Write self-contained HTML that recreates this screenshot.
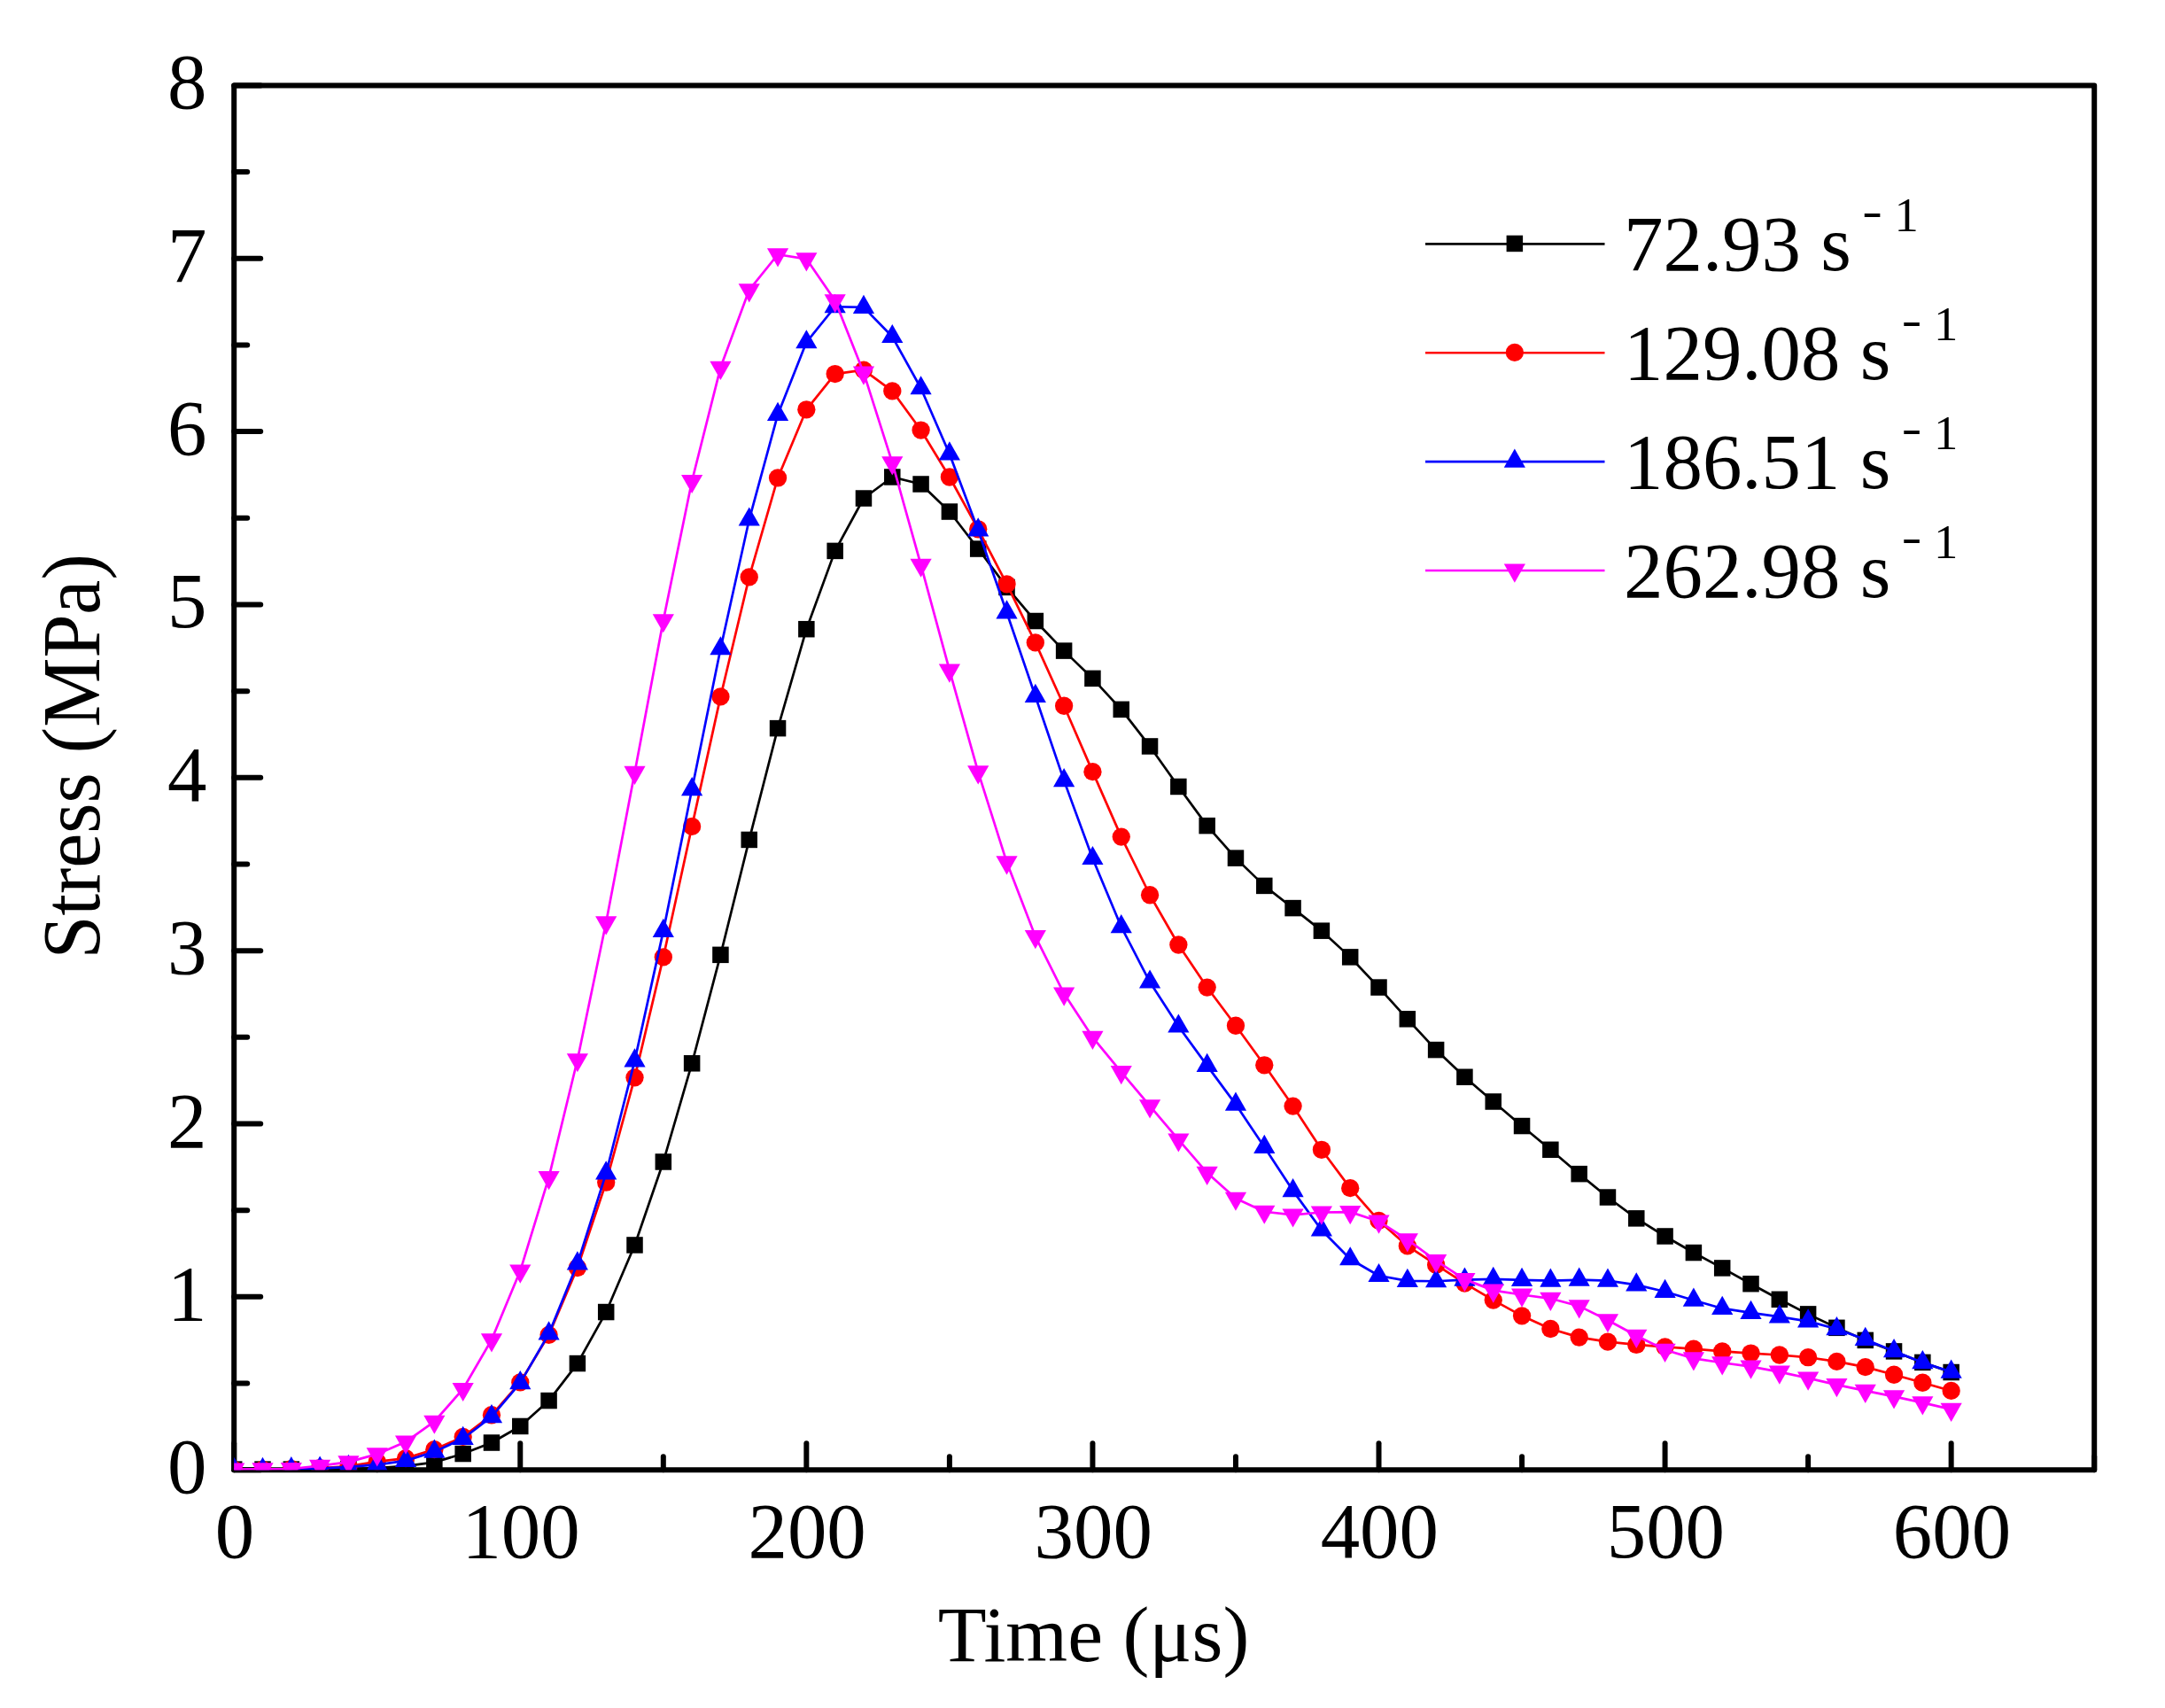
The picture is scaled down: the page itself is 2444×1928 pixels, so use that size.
<!DOCTYPE html>
<html lang="en">
<head>
<meta charset="utf-8">
<title>Stress versus time at different strain rates</title>
<style>
html,body{margin:0;padding:0;background:#ffffff;}
body{width:2444px;height:1928px;overflow:hidden;}
svg{display:block;}
text{font-family:"Liberation Serif",serif;fill:#000000;}
</style>
</head>
<body>
<svg width="2444" height="1928" viewBox="0 0 2444 1928">
<rect x="0" y="0" width="2444" height="1928" fill="#ffffff"/>
<defs><clipPath id="plotclip"><rect x="264.2" y="96.4" width="2100" height="1562.8"/></clipPath></defs>
<g stroke="#000000" stroke-width="6" stroke-linecap="round" stroke-linejoin="round" fill="none">
<rect x="264.2" y="96.4" width="2100" height="1562.8"/>
<line x1="264.2" y1="1659.2" x2="294.2" y2="1659.2"/>
<line x1="264.2" y1="1561.53" x2="279.2" y2="1561.53"/>
<line x1="264.2" y1="1463.85" x2="294.2" y2="1463.85"/>
<line x1="264.2" y1="1366.18" x2="279.2" y2="1366.18"/>
<line x1="264.2" y1="1268.5" x2="294.2" y2="1268.5"/>
<line x1="264.2" y1="1170.83" x2="279.2" y2="1170.83"/>
<line x1="264.2" y1="1073.15" x2="294.2" y2="1073.15"/>
<line x1="264.2" y1="975.48" x2="279.2" y2="975.48"/>
<line x1="264.2" y1="877.8" x2="294.2" y2="877.8"/>
<line x1="264.2" y1="780.13" x2="279.2" y2="780.13"/>
<line x1="264.2" y1="682.45" x2="294.2" y2="682.45"/>
<line x1="264.2" y1="584.78" x2="279.2" y2="584.78"/>
<line x1="264.2" y1="487.1" x2="294.2" y2="487.1"/>
<line x1="264.2" y1="389.43" x2="279.2" y2="389.43"/>
<line x1="264.2" y1="291.75" x2="294.2" y2="291.75"/>
<line x1="264.2" y1="194.08" x2="279.2" y2="194.08"/>
<line x1="264.2" y1="96.4" x2="294.2" y2="96.4"/>
<line x1="264.2" y1="1659.2" x2="264.2" y2="1629.2"/>
<line x1="425.74" y1="1659.2" x2="425.74" y2="1644.2"/>
<line x1="587.28" y1="1659.2" x2="587.28" y2="1629.2"/>
<line x1="748.82" y1="1659.2" x2="748.82" y2="1644.2"/>
<line x1="910.35" y1="1659.2" x2="910.35" y2="1629.2"/>
<line x1="1071.89" y1="1659.2" x2="1071.89" y2="1644.2"/>
<line x1="1233.43" y1="1659.2" x2="1233.43" y2="1629.2"/>
<line x1="1394.97" y1="1659.2" x2="1394.97" y2="1644.2"/>
<line x1="1556.51" y1="1659.2" x2="1556.51" y2="1629.2"/>
<line x1="1718.05" y1="1659.2" x2="1718.05" y2="1644.2"/>
<line x1="1879.58" y1="1659.2" x2="1879.58" y2="1629.2"/>
<line x1="2041.12" y1="1659.2" x2="2041.12" y2="1644.2"/>
<line x1="2202.66" y1="1659.2" x2="2202.66" y2="1629.2"/>
<line x1="2364.2" y1="1659.2" x2="2364.2" y2="1644.2"/>
</g>
<g clip-path="url(#plotclip)">
<polyline points="264.2,1658.61 296.51,1658.61 328.82,1658.61 361.12,1658.42 393.43,1658.03 425.74,1657.05 458.05,1654.9 490.35,1650.6 522.66,1641.03 554.97,1628.53 587.28,1609.97 619.58,1581.06 651.89,1539.06 684.2,1481.04 716.51,1405.44 748.82,1311.48 781.12,1200.32 813.43,1077.84 845.74,947.93 878.05,822.13 910.35,710.19 942.66,621.89 974.97,562.51 1007.28,538.48 1039.58,546.49 1071.89,577.55 1104.2,619.55 1136.51,662.92 1168.82,701.01 1201.12,734.61 1233.43,765.86 1265.74,800.83 1298.05,842.44 1330.35,887.96 1362.66,932.11 1394.97,968.64 1427.28,999.89 1459.58,1025.09 1491.89,1050.68 1524.2,1080.38 1556.51,1114.56 1588.82,1150.31 1621.12,1185.09 1653.43,1215.76 1685.74,1243.5 1718.05,1271.04 1750.35,1297.8 1782.66,1325.15 1814.97,1351.52 1847.28,1375.36 1879.58,1395.48 1911.89,1414.04 1944.2,1431.42 1976.51,1449.2 2008.82,1466.78 2041.12,1483.38 2073.43,1498.82 2105.74,1512.88 2138.05,1525.39 2170.35,1537.89 2202.66,1549.02" fill="none" stroke="#000000" stroke-width="2.7" stroke-linejoin="round"/>
<g><rect x="254.95" y="1649.36" width="18.5" height="18.5" fill="#000000"/><rect x="287.26" y="1649.36" width="18.5" height="18.5" fill="#000000"/><rect x="319.57" y="1649.36" width="18.5" height="18.5" fill="#000000"/><rect x="351.87" y="1649.17" width="18.5" height="18.5" fill="#000000"/><rect x="384.18" y="1648.78" width="18.5" height="18.5" fill="#000000"/><rect x="416.49" y="1647.8" width="18.5" height="18.5" fill="#000000"/><rect x="448.8" y="1645.65" width="18.5" height="18.5" fill="#000000"/><rect x="481.1" y="1641.35" width="18.5" height="18.5" fill="#000000"/><rect x="513.41" y="1631.78" width="18.5" height="18.5" fill="#000000"/><rect x="545.72" y="1619.28" width="18.5" height="18.5" fill="#000000"/><rect x="578.03" y="1600.72" width="18.5" height="18.5" fill="#000000"/><rect x="610.33" y="1571.81" width="18.5" height="18.5" fill="#000000"/><rect x="642.64" y="1529.81" width="18.5" height="18.5" fill="#000000"/><rect x="674.95" y="1471.79" width="18.5" height="18.5" fill="#000000"/><rect x="707.26" y="1396.19" width="18.5" height="18.5" fill="#000000"/><rect x="739.57" y="1302.23" width="18.5" height="18.5" fill="#000000"/><rect x="771.87" y="1191.07" width="18.5" height="18.5" fill="#000000"/><rect x="804.18" y="1068.59" width="18.5" height="18.5" fill="#000000"/><rect x="836.49" y="938.68" width="18.5" height="18.5" fill="#000000"/><rect x="868.8" y="812.88" width="18.5" height="18.5" fill="#000000"/><rect x="901.1" y="700.94" width="18.5" height="18.5" fill="#000000"/><rect x="933.41" y="612.64" width="18.5" height="18.5" fill="#000000"/><rect x="965.72" y="553.26" width="18.5" height="18.5" fill="#000000"/><rect x="998.03" y="529.23" width="18.5" height="18.5" fill="#000000"/><rect x="1030.33" y="537.24" width="18.5" height="18.5" fill="#000000"/><rect x="1062.64" y="568.3" width="18.5" height="18.5" fill="#000000"/><rect x="1094.95" y="610.3" width="18.5" height="18.5" fill="#000000"/><rect x="1127.26" y="653.67" width="18.5" height="18.5" fill="#000000"/><rect x="1159.57" y="691.76" width="18.5" height="18.5" fill="#000000"/><rect x="1191.87" y="725.36" width="18.5" height="18.5" fill="#000000"/><rect x="1224.18" y="756.61" width="18.5" height="18.5" fill="#000000"/><rect x="1256.49" y="791.58" width="18.5" height="18.5" fill="#000000"/><rect x="1288.8" y="833.19" width="18.5" height="18.5" fill="#000000"/><rect x="1321.1" y="878.71" width="18.5" height="18.5" fill="#000000"/><rect x="1353.41" y="922.86" width="18.5" height="18.5" fill="#000000"/><rect x="1385.72" y="959.39" width="18.5" height="18.5" fill="#000000"/><rect x="1418.03" y="990.64" width="18.5" height="18.5" fill="#000000"/><rect x="1450.33" y="1015.84" width="18.5" height="18.5" fill="#000000"/><rect x="1482.64" y="1041.43" width="18.5" height="18.5" fill="#000000"/><rect x="1514.95" y="1071.13" width="18.5" height="18.5" fill="#000000"/><rect x="1547.26" y="1105.31" width="18.5" height="18.5" fill="#000000"/><rect x="1579.57" y="1141.06" width="18.5" height="18.5" fill="#000000"/><rect x="1611.87" y="1175.84" width="18.5" height="18.5" fill="#000000"/><rect x="1644.18" y="1206.51" width="18.5" height="18.5" fill="#000000"/><rect x="1676.49" y="1234.25" width="18.5" height="18.5" fill="#000000"/><rect x="1708.8" y="1261.79" width="18.5" height="18.5" fill="#000000"/><rect x="1741.1" y="1288.55" width="18.5" height="18.5" fill="#000000"/><rect x="1773.41" y="1315.9" width="18.5" height="18.5" fill="#000000"/><rect x="1805.72" y="1342.27" width="18.5" height="18.5" fill="#000000"/><rect x="1838.03" y="1366.11" width="18.5" height="18.5" fill="#000000"/><rect x="1870.33" y="1386.23" width="18.5" height="18.5" fill="#000000"/><rect x="1902.64" y="1404.79" width="18.5" height="18.5" fill="#000000"/><rect x="1934.95" y="1422.17" width="18.5" height="18.5" fill="#000000"/><rect x="1967.26" y="1439.95" width="18.5" height="18.5" fill="#000000"/><rect x="1999.57" y="1457.53" width="18.5" height="18.5" fill="#000000"/><rect x="2031.87" y="1474.13" width="18.5" height="18.5" fill="#000000"/><rect x="2064.18" y="1489.57" width="18.5" height="18.5" fill="#000000"/><rect x="2096.49" y="1503.63" width="18.5" height="18.5" fill="#000000"/><rect x="2128.8" y="1516.14" width="18.5" height="18.5" fill="#000000"/><rect x="2161.1" y="1528.64" width="18.5" height="18.5" fill="#000000"/><rect x="2193.41" y="1539.77" width="18.5" height="18.5" fill="#000000"/></g>
<polyline points="264.2,1659.2 296.51,1659 328.82,1658.22 361.12,1657.25 393.43,1655.1 425.74,1649.82 458.05,1646.11 490.35,1636.15 522.66,1621.89 554.97,1597.27 587.28,1560.35 619.58,1506.83 651.89,1431.03 684.2,1334.72 716.51,1216.34 748.82,1080.38 781.12,932.89 813.43,786.38 845.74,651.39 878.05,539.45 910.35,462.29 942.66,422.05 974.97,417.56 1007.28,441.39 1039.58,485.54 1071.89,538.48 1104.2,597.28 1136.51,659.4 1168.82,725.43 1201.12,796.73 1233.43,871.16 1265.74,944.61 1298.05,1010.25 1330.35,1066.51 1362.66,1114.56 1394.97,1157.74 1427.28,1202.28 1459.58,1248.57 1491.89,1297.8 1524.2,1341.17 1556.51,1377.9 1588.82,1406.42 1621.12,1427.71 1653.43,1448.61 1685.74,1467.56 1718.05,1485.34 1750.35,1499.99 1782.66,1509.56 1814.97,1514.64 1847.28,1517.96 1879.58,1520.31 1911.89,1522.65 1944.2,1525.39 1976.51,1527.53 2008.82,1529.49 2041.12,1532.22 2073.43,1536.91 2105.74,1543.16 2138.05,1551.76 2170.35,1560.74 2202.66,1569.93" fill="none" stroke="#ff0000" stroke-width="2.7" stroke-linejoin="round"/>
<g><circle cx="264.2" cy="1659.2" r="10.15" fill="#ff0000"/><circle cx="296.51" cy="1659" r="10.15" fill="#ff0000"/><circle cx="328.82" cy="1658.22" r="10.15" fill="#ff0000"/><circle cx="361.12" cy="1657.25" r="10.15" fill="#ff0000"/><circle cx="393.43" cy="1655.1" r="10.15" fill="#ff0000"/><circle cx="425.74" cy="1649.82" r="10.15" fill="#ff0000"/><circle cx="458.05" cy="1646.11" r="10.15" fill="#ff0000"/><circle cx="490.35" cy="1636.15" r="10.15" fill="#ff0000"/><circle cx="522.66" cy="1621.89" r="10.15" fill="#ff0000"/><circle cx="554.97" cy="1597.27" r="10.15" fill="#ff0000"/><circle cx="587.28" cy="1560.35" r="10.15" fill="#ff0000"/><circle cx="619.58" cy="1506.83" r="10.15" fill="#ff0000"/><circle cx="651.89" cy="1431.03" r="10.15" fill="#ff0000"/><circle cx="684.2" cy="1334.72" r="10.15" fill="#ff0000"/><circle cx="716.51" cy="1216.34" r="10.15" fill="#ff0000"/><circle cx="748.82" cy="1080.38" r="10.15" fill="#ff0000"/><circle cx="781.12" cy="932.89" r="10.15" fill="#ff0000"/><circle cx="813.43" cy="786.38" r="10.15" fill="#ff0000"/><circle cx="845.74" cy="651.39" r="10.15" fill="#ff0000"/><circle cx="878.05" cy="539.45" r="10.15" fill="#ff0000"/><circle cx="910.35" cy="462.29" r="10.15" fill="#ff0000"/><circle cx="942.66" cy="422.05" r="10.15" fill="#ff0000"/><circle cx="974.97" cy="417.56" r="10.15" fill="#ff0000"/><circle cx="1007.28" cy="441.39" r="10.15" fill="#ff0000"/><circle cx="1039.58" cy="485.54" r="10.15" fill="#ff0000"/><circle cx="1071.89" cy="538.48" r="10.15" fill="#ff0000"/><circle cx="1104.2" cy="597.28" r="10.15" fill="#ff0000"/><circle cx="1136.51" cy="659.4" r="10.15" fill="#ff0000"/><circle cx="1168.82" cy="725.43" r="10.15" fill="#ff0000"/><circle cx="1201.12" cy="796.73" r="10.15" fill="#ff0000"/><circle cx="1233.43" cy="871.16" r="10.15" fill="#ff0000"/><circle cx="1265.74" cy="944.61" r="10.15" fill="#ff0000"/><circle cx="1298.05" cy="1010.25" r="10.15" fill="#ff0000"/><circle cx="1330.35" cy="1066.51" r="10.15" fill="#ff0000"/><circle cx="1362.66" cy="1114.56" r="10.15" fill="#ff0000"/><circle cx="1394.97" cy="1157.74" r="10.15" fill="#ff0000"/><circle cx="1427.28" cy="1202.28" r="10.15" fill="#ff0000"/><circle cx="1459.58" cy="1248.57" r="10.15" fill="#ff0000"/><circle cx="1491.89" cy="1297.8" r="10.15" fill="#ff0000"/><circle cx="1524.2" cy="1341.17" r="10.15" fill="#ff0000"/><circle cx="1556.51" cy="1377.9" r="10.15" fill="#ff0000"/><circle cx="1588.82" cy="1406.42" r="10.15" fill="#ff0000"/><circle cx="1621.12" cy="1427.71" r="10.15" fill="#ff0000"/><circle cx="1653.43" cy="1448.61" r="10.15" fill="#ff0000"/><circle cx="1685.74" cy="1467.56" r="10.15" fill="#ff0000"/><circle cx="1718.05" cy="1485.34" r="10.15" fill="#ff0000"/><circle cx="1750.35" cy="1499.99" r="10.15" fill="#ff0000"/><circle cx="1782.66" cy="1509.56" r="10.15" fill="#ff0000"/><circle cx="1814.97" cy="1514.64" r="10.15" fill="#ff0000"/><circle cx="1847.28" cy="1517.96" r="10.15" fill="#ff0000"/><circle cx="1879.58" cy="1520.31" r="10.15" fill="#ff0000"/><circle cx="1911.89" cy="1522.65" r="10.15" fill="#ff0000"/><circle cx="1944.2" cy="1525.39" r="10.15" fill="#ff0000"/><circle cx="1976.51" cy="1527.53" r="10.15" fill="#ff0000"/><circle cx="2008.82" cy="1529.49" r="10.15" fill="#ff0000"/><circle cx="2041.12" cy="1532.22" r="10.15" fill="#ff0000"/><circle cx="2073.43" cy="1536.91" r="10.15" fill="#ff0000"/><circle cx="2105.74" cy="1543.16" r="10.15" fill="#ff0000"/><circle cx="2138.05" cy="1551.76" r="10.15" fill="#ff0000"/><circle cx="2170.35" cy="1560.74" r="10.15" fill="#ff0000"/><circle cx="2202.66" cy="1569.93" r="10.15" fill="#ff0000"/></g>
<polyline points="264.2,1659 296.51,1659 328.82,1658.22 361.12,1657.64 393.43,1655.88 425.74,1653.34 458.05,1648.85 490.35,1638.69 522.66,1623.84 554.97,1599.23 587.28,1561.13 619.58,1505.46 651.89,1426.34 684.2,1324.37 716.51,1197.39 748.82,1050.88 781.12,891.08 813.43,732.26 845.74,586.53 878.05,467.96 910.35,386.3 942.66,346.25 974.97,346.84 1007.28,380.05 1039.58,438.26 1071.89,512.5 1104.2,598.45 1136.51,691.44 1168.82,785.99 1201.12,881.12 1233.43,969.03 1265.74,1046.19 1298.05,1108.51 1330.35,1158.52 1362.66,1202.86 1394.97,1246.62 1427.28,1294.87 1459.58,1344.1 1491.89,1388.44 1524.2,1421.26 1556.51,1440.02 1588.82,1445.88 1621.12,1446.27 1653.43,1444.71 1685.74,1443.92 1718.05,1444.9 1750.35,1445.68 1782.66,1444.71 1814.97,1445.68 1847.28,1450.37 1879.58,1457.99 1911.89,1467.76 1944.2,1476.94 1976.51,1481.82 2008.82,1486.32 2041.12,1491.39 2073.43,1500.19 2105.74,1511.91 2138.05,1525.19 2170.35,1538.08 2202.66,1548.63" fill="none" stroke="#0000ff" stroke-width="2.7" stroke-linejoin="round"/>
<g><polygon points="264.2,1644.87 252.1,1666.07 276.3,1666.07" fill="#0000ff"/><polygon points="296.51,1644.87 284.41,1666.07 308.61,1666.07" fill="#0000ff"/><polygon points="328.82,1644.09 316.72,1665.29 340.92,1665.29" fill="#0000ff"/><polygon points="361.12,1643.5 349.02,1664.7 373.22,1664.7" fill="#0000ff"/><polygon points="393.43,1641.75 381.33,1662.95 405.53,1662.95" fill="#0000ff"/><polygon points="425.74,1639.21 413.64,1660.41 437.84,1660.41" fill="#0000ff"/><polygon points="458.05,1634.71 445.95,1655.91 470.15,1655.91" fill="#0000ff"/><polygon points="490.35,1624.55 478.25,1645.75 502.45,1645.75" fill="#0000ff"/><polygon points="522.66,1609.71 510.56,1630.91 534.76,1630.91" fill="#0000ff"/><polygon points="554.97,1585.09 542.87,1606.29 567.07,1606.29" fill="#0000ff"/><polygon points="587.28,1547 575.18,1568.2 599.38,1568.2" fill="#0000ff"/><polygon points="619.58,1491.33 607.48,1512.53 631.68,1512.53" fill="#0000ff"/><polygon points="651.89,1412.21 639.79,1433.41 663.99,1433.41" fill="#0000ff"/><polygon points="684.2,1310.24 672.1,1331.44 696.3,1331.44" fill="#0000ff"/><polygon points="716.51,1183.26 704.41,1204.46 728.61,1204.46" fill="#0000ff"/><polygon points="748.82,1036.75 736.72,1057.95 760.92,1057.95" fill="#0000ff"/><polygon points="781.12,876.95 769.02,898.15 793.22,898.15" fill="#0000ff"/><polygon points="813.43,718.13 801.33,739.33 825.53,739.33" fill="#0000ff"/><polygon points="845.74,572.4 833.64,593.6 857.84,593.6" fill="#0000ff"/><polygon points="878.05,453.82 865.95,475.02 890.15,475.02" fill="#0000ff"/><polygon points="910.35,372.17 898.25,393.37 922.45,393.37" fill="#0000ff"/><polygon points="942.66,332.12 930.56,353.32 954.76,353.32" fill="#0000ff"/><polygon points="974.97,332.71 962.87,353.91 987.07,353.91" fill="#0000ff"/><polygon points="1007.28,365.91 995.18,387.11 1019.38,387.11" fill="#0000ff"/><polygon points="1039.58,424.13 1027.48,445.33 1051.68,445.33" fill="#0000ff"/><polygon points="1071.89,498.36 1059.79,519.56 1083.99,519.56" fill="#0000ff"/><polygon points="1104.2,584.32 1092.1,605.52 1116.3,605.52" fill="#0000ff"/><polygon points="1136.51,677.3 1124.41,698.5 1148.61,698.5" fill="#0000ff"/><polygon points="1168.82,771.85 1156.72,793.05 1180.92,793.05" fill="#0000ff"/><polygon points="1201.12,866.99 1189.02,888.19 1213.22,888.19" fill="#0000ff"/><polygon points="1233.43,954.9 1221.33,976.1 1245.53,976.1" fill="#0000ff"/><polygon points="1265.74,1032.06 1253.64,1053.26 1277.84,1053.26" fill="#0000ff"/><polygon points="1298.05,1094.38 1285.95,1115.58 1310.15,1115.58" fill="#0000ff"/><polygon points="1330.35,1144.38 1318.25,1165.58 1342.45,1165.58" fill="#0000ff"/><polygon points="1362.66,1188.73 1350.56,1209.93 1374.76,1209.93" fill="#0000ff"/><polygon points="1394.97,1232.49 1382.87,1253.69 1407.07,1253.69" fill="#0000ff"/><polygon points="1427.28,1280.74 1415.18,1301.94 1439.38,1301.94" fill="#0000ff"/><polygon points="1459.58,1329.97 1447.48,1351.17 1471.68,1351.17" fill="#0000ff"/><polygon points="1491.89,1374.31 1479.79,1395.51 1503.99,1395.51" fill="#0000ff"/><polygon points="1524.2,1407.13 1512.1,1428.33 1536.3,1428.33" fill="#0000ff"/><polygon points="1556.51,1425.88 1544.41,1447.08 1568.61,1447.08" fill="#0000ff"/><polygon points="1588.82,1431.74 1576.72,1452.94 1600.92,1452.94" fill="#0000ff"/><polygon points="1621.12,1432.14 1609.02,1453.34 1633.22,1453.34" fill="#0000ff"/><polygon points="1653.43,1430.57 1641.33,1451.77 1665.53,1451.77" fill="#0000ff"/><polygon points="1685.74,1429.79 1673.64,1450.99 1697.84,1450.99" fill="#0000ff"/><polygon points="1718.05,1430.77 1705.95,1451.97 1730.15,1451.97" fill="#0000ff"/><polygon points="1750.35,1431.55 1738.25,1452.75 1762.45,1452.75" fill="#0000ff"/><polygon points="1782.66,1430.57 1770.56,1451.77 1794.76,1451.77" fill="#0000ff"/><polygon points="1814.97,1431.55 1802.87,1452.75 1827.07,1452.75" fill="#0000ff"/><polygon points="1847.28,1436.24 1835.18,1457.44 1859.38,1457.44" fill="#0000ff"/><polygon points="1879.58,1443.86 1867.48,1465.06 1891.68,1465.06" fill="#0000ff"/><polygon points="1911.89,1453.62 1899.79,1474.82 1923.99,1474.82" fill="#0000ff"/><polygon points="1944.2,1462.81 1932.1,1484.01 1956.3,1484.01" fill="#0000ff"/><polygon points="1976.51,1467.69 1964.41,1488.89 1988.61,1488.89" fill="#0000ff"/><polygon points="2008.82,1472.18 1996.72,1493.38 2020.92,1493.38" fill="#0000ff"/><polygon points="2041.12,1477.26 2029.02,1498.46 2053.22,1498.46" fill="#0000ff"/><polygon points="2073.43,1486.05 2061.33,1507.25 2085.53,1507.25" fill="#0000ff"/><polygon points="2105.74,1497.77 2093.64,1518.97 2117.84,1518.97" fill="#0000ff"/><polygon points="2138.05,1511.06 2125.95,1532.26 2150.15,1532.26" fill="#0000ff"/><polygon points="2170.35,1523.95 2158.25,1545.15 2182.45,1545.15" fill="#0000ff"/><polygon points="2202.66,1534.5 2190.56,1555.7 2214.76,1555.7" fill="#0000ff"/></g>
<polyline points="264.2,1658.61 296.51,1658.42 328.82,1658.03 361.12,1654.71 393.43,1650.41 425.74,1641.42 458.05,1627.55 490.35,1604.7 522.66,1567.97 554.97,1512.3 587.28,1434.55 619.58,1329.06 651.89,1196.22 684.2,1041.31 716.51,871.94 748.82,700.23 781.12,542.97 813.43,414.82 845.74,327.3 878.05,287.26 910.35,292.34 942.66,339.22 974.97,420.68 1007.28,522.26 1039.58,637.71 1071.89,756.68 1104.2,871.35 1136.51,973.33 1168.82,1057.13 1201.12,1121.6 1233.43,1170.83 1265.74,1210.09 1298.05,1248.38 1330.35,1286.47 1362.66,1323.78 1394.97,1352.7 1427.28,1367.74 1459.58,1371.45 1491.89,1368.52 1524.2,1368.13 1556.51,1378.68 1588.82,1399.38 1621.12,1423.02 1653.43,1444.12 1685.74,1456.62 1718.05,1461.51 1750.35,1465.8 1782.66,1474.4 1814.97,1490.22 1847.28,1507.8 1879.58,1523.82 1911.89,1533.39 1944.2,1538.28 1976.51,1542.58 2008.82,1548.63 2041.12,1555.66 2073.43,1563.09 2105.74,1569.93 2138.05,1576.37 2170.35,1583.4 2202.66,1590.83" fill="none" stroke="#ff00ff" stroke-width="2.7" stroke-linejoin="round"/>
<g><polygon points="264.2,1672.75 252.1,1651.55 276.3,1651.55" fill="#ff00ff"/><polygon points="296.51,1672.55 284.41,1651.35 308.61,1651.35" fill="#ff00ff"/><polygon points="328.82,1672.16 316.72,1650.96 340.92,1650.96" fill="#ff00ff"/><polygon points="361.12,1668.84 349.02,1647.64 373.22,1647.64" fill="#ff00ff"/><polygon points="393.43,1664.54 381.33,1643.34 405.53,1643.34" fill="#ff00ff"/><polygon points="425.74,1655.56 413.64,1634.36 437.84,1634.36" fill="#ff00ff"/><polygon points="458.05,1641.69 445.95,1620.49 470.15,1620.49" fill="#ff00ff"/><polygon points="490.35,1618.83 478.25,1597.63 502.45,1597.63" fill="#ff00ff"/><polygon points="522.66,1582.1 510.56,1560.9 534.76,1560.9" fill="#ff00ff"/><polygon points="554.97,1526.43 542.87,1505.23 567.07,1505.23" fill="#ff00ff"/><polygon points="587.28,1448.68 575.18,1427.48 599.38,1427.48" fill="#ff00ff"/><polygon points="619.58,1343.19 607.48,1321.99 631.68,1321.99" fill="#ff00ff"/><polygon points="651.89,1210.35 639.79,1189.15 663.99,1189.15" fill="#ff00ff"/><polygon points="684.2,1055.44 672.1,1034.24 696.3,1034.24" fill="#ff00ff"/><polygon points="716.51,886.07 704.41,864.87 728.61,864.87" fill="#ff00ff"/><polygon points="748.82,714.36 736.72,693.16 760.92,693.16" fill="#ff00ff"/><polygon points="781.12,557.1 769.02,535.9 793.22,535.9" fill="#ff00ff"/><polygon points="813.43,428.95 801.33,407.75 825.53,407.75" fill="#ff00ff"/><polygon points="845.74,341.44 833.64,320.24 857.84,320.24" fill="#ff00ff"/><polygon points="878.05,301.39 865.95,280.19 890.15,280.19" fill="#ff00ff"/><polygon points="910.35,306.47 898.25,285.27 922.45,285.27" fill="#ff00ff"/><polygon points="942.66,353.35 930.56,332.15 954.76,332.15" fill="#ff00ff"/><polygon points="974.97,434.81 962.87,413.61 987.07,413.61" fill="#ff00ff"/><polygon points="1007.28,536.4 995.18,515.2 1019.38,515.2" fill="#ff00ff"/><polygon points="1039.58,651.85 1027.48,630.65 1051.68,630.65" fill="#ff00ff"/><polygon points="1071.89,770.82 1059.79,749.62 1083.99,749.62" fill="#ff00ff"/><polygon points="1104.2,885.49 1092.1,864.29 1116.3,864.29" fill="#ff00ff"/><polygon points="1136.51,987.46 1124.41,966.26 1148.61,966.26" fill="#ff00ff"/><polygon points="1168.82,1071.26 1156.72,1050.06 1180.92,1050.06" fill="#ff00ff"/><polygon points="1201.12,1135.73 1189.02,1114.53 1213.22,1114.53" fill="#ff00ff"/><polygon points="1233.43,1184.96 1221.33,1163.76 1245.53,1163.76" fill="#ff00ff"/><polygon points="1265.74,1224.22 1253.64,1203.02 1277.84,1203.02" fill="#ff00ff"/><polygon points="1298.05,1262.51 1285.95,1241.31 1310.15,1241.31" fill="#ff00ff"/><polygon points="1330.35,1300.61 1318.25,1279.41 1342.45,1279.41" fill="#ff00ff"/><polygon points="1362.66,1337.92 1350.56,1316.72 1374.76,1316.72" fill="#ff00ff"/><polygon points="1394.97,1366.83 1382.87,1345.63 1407.07,1345.63" fill="#ff00ff"/><polygon points="1427.28,1381.87 1415.18,1360.67 1439.38,1360.67" fill="#ff00ff"/><polygon points="1459.58,1385.58 1447.48,1364.38 1471.68,1364.38" fill="#ff00ff"/><polygon points="1491.89,1382.65 1479.79,1361.45 1503.99,1361.45" fill="#ff00ff"/><polygon points="1524.2,1382.26 1512.1,1361.06 1536.3,1361.06" fill="#ff00ff"/><polygon points="1556.51,1392.81 1544.41,1371.61 1568.61,1371.61" fill="#ff00ff"/><polygon points="1588.82,1413.52 1576.72,1392.32 1600.92,1392.32" fill="#ff00ff"/><polygon points="1621.12,1437.16 1609.02,1415.96 1633.22,1415.96" fill="#ff00ff"/><polygon points="1653.43,1458.25 1641.33,1437.05 1665.53,1437.05" fill="#ff00ff"/><polygon points="1685.74,1470.76 1673.64,1449.56 1697.84,1449.56" fill="#ff00ff"/><polygon points="1718.05,1475.64 1705.95,1454.44 1730.15,1454.44" fill="#ff00ff"/><polygon points="1750.35,1479.94 1738.25,1458.74 1762.45,1458.74" fill="#ff00ff"/><polygon points="1782.66,1488.53 1770.56,1467.33 1794.76,1467.33" fill="#ff00ff"/><polygon points="1814.97,1504.36 1802.87,1483.16 1827.07,1483.16" fill="#ff00ff"/><polygon points="1847.28,1521.94 1835.18,1500.74 1859.38,1500.74" fill="#ff00ff"/><polygon points="1879.58,1537.96 1867.48,1516.76 1891.68,1516.76" fill="#ff00ff"/><polygon points="1911.89,1547.53 1899.79,1526.33 1923.99,1526.33" fill="#ff00ff"/><polygon points="1944.2,1552.41 1932.1,1531.21 1956.3,1531.21" fill="#ff00ff"/><polygon points="1976.51,1556.71 1964.41,1535.51 1988.61,1535.51" fill="#ff00ff"/><polygon points="2008.82,1562.77 1996.72,1541.57 2020.92,1541.57" fill="#ff00ff"/><polygon points="2041.12,1569.8 2029.02,1548.6 2053.22,1548.6" fill="#ff00ff"/><polygon points="2073.43,1577.22 2061.33,1556.02 2085.53,1556.02" fill="#ff00ff"/><polygon points="2105.74,1584.06 2093.64,1562.86 2117.84,1562.86" fill="#ff00ff"/><polygon points="2138.05,1590.5 2125.95,1569.3 2150.15,1569.3" fill="#ff00ff"/><polygon points="2170.35,1597.54 2158.25,1576.34 2182.45,1576.34" fill="#ff00ff"/><polygon points="2202.66,1604.96 2190.56,1583.76 2214.76,1583.76" fill="#ff00ff"/></g>
</g>
<g font-size="88.9" text-anchor="end">
<text x="233.5" y="1685.2">0</text>
<text x="233.5" y="1489.85">1</text>
<text x="233.5" y="1294.5">2</text>
<text x="233.5" y="1099.15">3</text>
<text x="233.5" y="903.8">4</text>
<text x="233.5" y="708.45">5</text>
<text x="233.5" y="513.1">6</text>
<text x="233.5" y="317.75">7</text>
<text x="233.5" y="122.4">8</text>
</g>
<g font-size="88.9" text-anchor="middle">
<text x="265" y="1757.5">0</text>
<text x="588.08" y="1757.5">100</text>
<text x="911.15" y="1757.5">200</text>
<text x="1234.23" y="1757.5">300</text>
<text x="1557.31" y="1757.5">400</text>
<text x="1880.38" y="1757.5">500</text>
<text x="2203.46" y="1757.5">600</text>
</g>
<text transform="translate(1058.7,1874.8) scale(1.01,1)" font-size="88.9">Time (μs)</text>
<text transform="translate(111.9,1082.4) rotate(-90) scale(0.99,1.05)" font-size="88.9">Stress (MPa)</text>
<line x1="1609" y1="275.4" x2="1811.5" y2="275.4" stroke="#000000" stroke-width="2.7"/>
<rect x="1700.6" y="265.7" width="18.5" height="18.5" fill="#000000"/>
<text x="1833" y="305.1" font-size="88.9">72.93 s</text>
<text transform="translate(2102.2,255.75) scale(1.27,1)" font-size="53.3">-</text>
<text x="2138.5" y="261.2" font-size="54.7">1</text>
<line x1="1609" y1="398.27" x2="1811.5" y2="398.27" stroke="#ff0000" stroke-width="2.7"/>
<circle cx="1709.85" cy="397.82" r="10.15" fill="#ff0000"/>
<text x="1833" y="427.97" font-size="88.9">129.08 s</text>
<text transform="translate(2146.65,378.62) scale(1.27,1)" font-size="53.3">-</text>
<text x="2182.95" y="384.07" font-size="54.7">1</text>
<line x1="1609" y1="521.14" x2="1811.5" y2="521.14" stroke="#0000ff" stroke-width="2.7"/>
<polygon points="1709.85,506.56 1697.75,527.76 1721.95,527.76" fill="#0000ff"/>
<text x="1833" y="550.84" font-size="88.9">186.51 s</text>
<text transform="translate(2146.65,501.49) scale(1.27,1)" font-size="53.3">-</text>
<text x="2182.95" y="506.94" font-size="54.7">1</text>
<line x1="1609" y1="644.01" x2="1811.5" y2="644.01" stroke="#ff00ff" stroke-width="2.7"/>
<polygon points="1709.85,657.69 1697.75,636.49 1721.95,636.49" fill="#ff00ff"/>
<text x="1833" y="673.71" font-size="88.9">262.98 s</text>
<text transform="translate(2146.65,624.36) scale(1.27,1)" font-size="53.3">-</text>
<text x="2182.95" y="629.81" font-size="54.7">1</text>
</svg>
</body>
</html>
